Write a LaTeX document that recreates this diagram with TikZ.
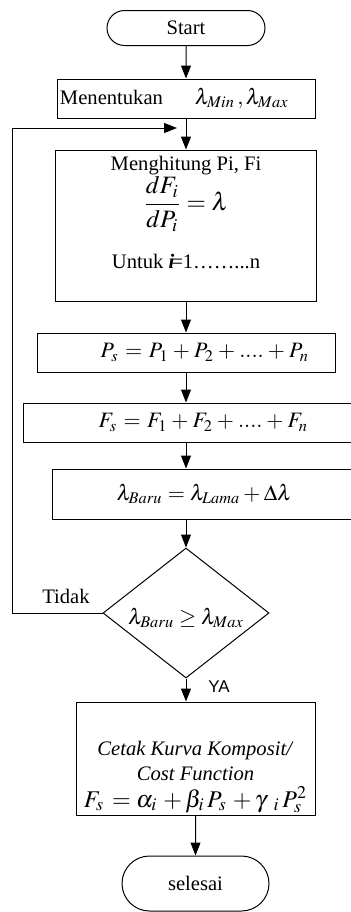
\documentclass[tikz,border=0pt]{standalone}
\usepackage{amsmath}
\usepackage{mathptmx}
\usepackage{fontspec}
\setmainfont{Liberation Serif}
\setsansfont{Liberation Sans}
\usepackage{tikz}
\usetikzlibrary{shapes.geometric, shapes.misc, arrows.meta, positioning}

\newcommand{\eqsize}{\fontsize{11}{13}\selectfont}
\newcommand{\fracsize}{\fontsize{12.5}{15}\selectfont}
\tikzset{
  terminal/.style={draw, rounded rectangle, line width=0.5pt, inner sep=0pt},
  procbox/.style={draw, rectangle, line width=0.5pt, inner sep=0pt},
  decision/.style={draw, diamond, line width=0.5pt, inner sep=0pt},
  flow/.style={-{Triangle[length=6.5pt,width=5pt]}, line width=0.5pt},
}

\begin{document}
\begin{tikzpicture}[x=0.5pt, y=-0.5pt, font=\fontsize{10.3}{12.4}\selectfont]
            \useasboundingbox (0,0) rectangle (350,912);
            \node[terminal, minimum width=79pt, minimum height=17.5pt] (start) at (186,28) {Start};
            \node[procbox, minimum width=129pt, minimum height=19.5pt, text width=126pt, align=left] (init) at (186,98.5) {Menentukan\hspace{16pt}{\eqsize$\lambda_{Min}\,,\lambda_{Max}$}};
            \node[procbox, minimum width=130.5pt, minimum height=75.5pt] (calc) at (186,225.5) {};
            \node[anchor=base, align=center, inner sep=0pt] (calctext) at (186,268) {Menghitung Pi, Fi\\[0pt] {\fracsize$\dfrac{dF_i}{dP_i}=\lambda$}\\[10pt] Untuk \textbf{\textit{i}}\kern-1.5pt=1……...n};
            \node[procbox, minimum width=149pt, minimum height=19.5pt, text width=123pt, align=right] (psum) at (186,352.5) {\eqsize$P_s = P_1 + P_2 + .... + P_n$};
            \node[procbox, minimum width=164pt, minimum height=19.5pt, text width=121pt, align=right] (fsum) at (187,422.5) {\eqsize$F_s = F_1 + F_2 + .... + F_n$};
            \node[procbox, minimum width=149.5pt, minimum height=25pt, text width=90.5pt, align=right] (lam) at (201.5,494) {\eqsize$\lambda_{Baru} = \lambda_{Lama} + \Delta\lambda$};
            \node[decision, minimum width=83pt, minimum height=65pt] (cond) at (186,613) {};
            \node (condtext) at (186,618) {\eqsize$\lambda_{Baru}\geq\lambda_{Max}$};
            \node[procbox, minimum width=119.5pt, minimum height=56.5pt] (out) at (195.5,758.5) {};
            \node[anchor=base, align=center, inner sep=0pt] (outtext) at (195.5,807) {\textit{Cetak Kurva Komposit/}\\ \textit{Cost Function}\\[1pt] {\fontsize{12}{14}\selectfont$F_{s}\,=\alpha_{i}\,+\beta_{i}\,P_{s}\,+\gamma_{\mkern9mu i}\,P_{s}^{2}$}};
            \node[terminal, minimum width=73.5pt, minimum height=27.5pt] (end) at (195.5,883.5) {selesai};
            \node (no) at (66,596) {Tidak};
            \node[font=\sffamily\fontsize{8.5}{10}\selectfont] (yes) at (219,687) {YA};
            \coordinate (back) at (12,128);
            \coordinate (join) at (177,128);
            \draw[flow] (start) -- (init);
            \draw[flow] (init) -- (calc);
            \draw[flow] (calc) -- (psum);
            \draw[flow] (psum) -- (psum.south |- fsum.north);
            \draw[flow] (psum.south |- fsum.south) -- (psum.south |- lam.north);
            \draw[flow] (psum.south |- lam.south) -- (cond);
            \draw[flow] (cond) -- (cond.south |- out.north);
            \draw[flow] (out) -- (end);
            \draw[flow] (cond.west) -| (back) -- (join);
        \end{tikzpicture}
\end{document}
